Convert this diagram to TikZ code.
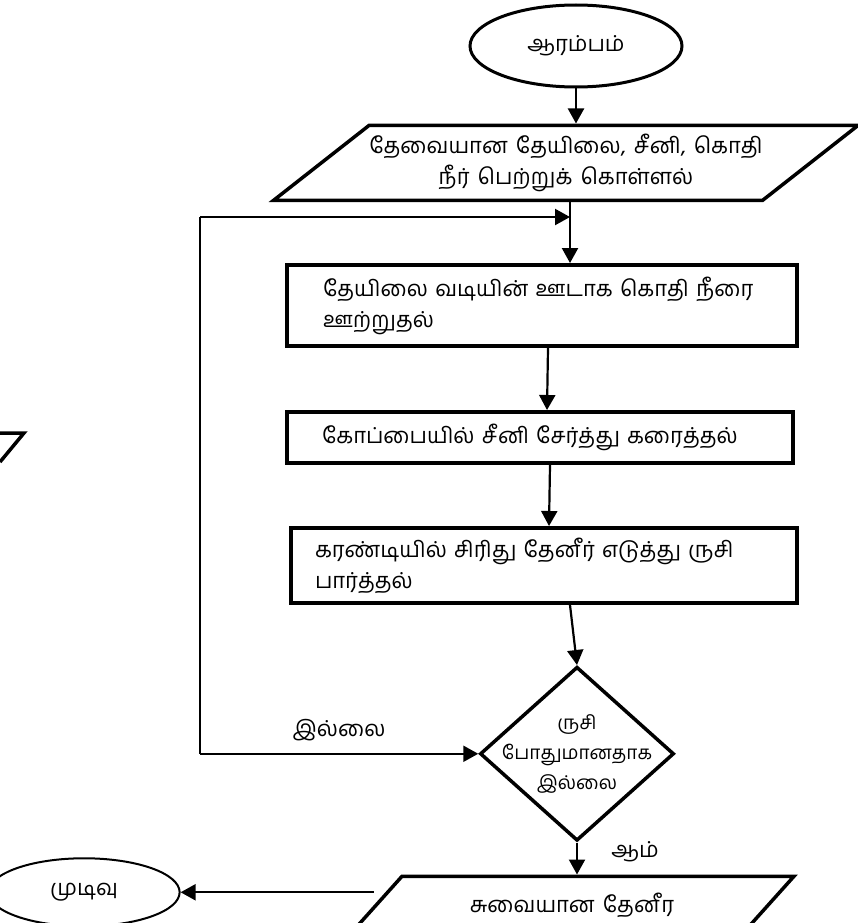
\documentclass[tikz,border=0pt]{standalone}
\usepackage{fontspec}
\newfontfamily\tamil[Script=Tamil,WordSpace=1.5]{Hind Madurai}
\usetikzlibrary{positioning}
\usetikzlibrary{shapes.geometric}
\usetikzlibrary{arrows.meta}
\usetikzlibrary{calc}

\begin{document}
\begin{tikzpicture}[
  x=1pt, y=-1pt,
  font={\tamil\fontsize{22}{31}\selectfont},
  term/.style={draw, ellipse, line width=3pt, inner sep=0pt},
  io/.style={draw, trapezium, trapezium stretches body, line width=3.5pt, align=center, inner xsep=0pt},
  box/.style={draw, rectangle, line width=4pt, align=left, inner ysep=0pt},
  cond/.style={draw, diamond, line width=3.5pt, align=center, inner xsep=-30pt, inner ysep=-14pt,
    font={\tamil\fontsize{19}{30}\selectfont}},
  arrow/.style={-{Triangle[length=15pt, width=16pt]}, line width=2.2pt},
  back/.style={line width=1.3pt}
]

\useasboundingbox (0,0) rectangle (857,923);

\node[term, minimum width=212pt, minimum height=82pt] (start) at (576,46) {ஆரம்பம்};

\node[io, trapezium left angle=34, trapezium right angle=146, minimum width=562pt, minimum height=75pt,
  below=35pt of start, xshift=-10pt] (in1) {தேவையான தேயிலை, சீனி, கொதி\\நீர் பெற்றுக் கொள்ளல்};

\node[box, inner xsep=36pt, text width=438pt, minimum height=81pt, below=61pt of in1, xshift=-24pt] (pour)
  {தேயிலை வடியின் ஊடாக கொதி நீரை\\ஊற்றுதல்};
\node[box, inner xsep=35pt, text width=436pt, minimum height=51pt, below=62pt of pour, xshift=-2pt] (sugar)
  {கோப்பையில் சீனி சேர்த்து கரைத்தல்};
\node[box, inner xsep=24pt, text width=458pt, minimum height=75pt, below=61pt of sugar, xshift=4pt] (taste)
  {கரண்டியில் சிரிது தேனீர் எடுத்து ருசி\\பார்த்தல்};

\node[cond, minimum width=194pt, minimum height=174pt, below=60pt of taste, xshift=33pt] (enough)
  {ருசி\\போதுமானதாக\\இல்லை};

\node[io, trapezium left angle=31, trapezium right angle=149, minimum width=444pt, minimum height=58pt,
  below=32pt of enough, xshift=-5pt] (out) {சுவையான தேனீர};

\node[term, line width=2pt, minimum width=191pt, minimum height=68pt, left=193pt of out, yshift=13pt] (stop) {முடிவு};

% main flow
\coordinate (feed) at ([xshift=28pt]pour.north);
\coordinate (feedtop) at (feed |- in1.south);
\draw[arrow] (start) -- (start |- in1.north);
\draw[arrow] (feedtop) -- (feed);
\draw[arrow] ([xshift=6pt]pour.south) -- ([xshift=7pt]sugar.north);
\draw[arrow] ([xshift=10pt]sugar.south) -- ([xshift=5pt]taste.north);
\draw[arrow] ([xshift=26pt]taste.south) -- (enough.north);
\draw[arrow] (enough.south) -- (enough.south |- out.north) node[pos=0.3, right=30pt] {ஆம்};
\draw[arrow] (out.west |- stop.east) -- (stop.east);

% loop back
\coordinate (join) at ([yshift=-15pt]feedtop);
\coordinate (looptop) at ([xshift=-370pt]join);
\coordinate (loopbot) at (looptop |- enough.west);
\draw[back] (looptop) -- (loopbot);
\draw[arrow] (looptop) -- (join);
\draw[arrow] (loopbot) -- (enough.west) node[midway, above=8pt] {இல்லை};

% cut-off corner at the left edge
\draw[line width=3.5pt] (0,433) -- (24,433) -- (0,462);

\end{tikzpicture}
\end{document}
